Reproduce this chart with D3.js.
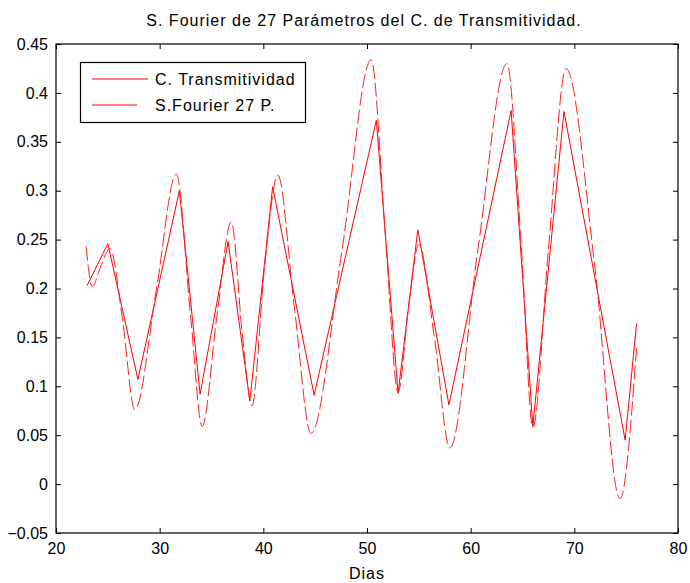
<!DOCTYPE html>
<meta charset="utf-8">
<style type="text/css">
body { margin: 0; background: #fff; }
svg { font-family: "Liberation Sans", Arial, Helvetica, sans-serif; }
.axis text { font-size: 16px; fill: #000; }
.axis path, .axis line { stroke: #000; }
</style>
<body>
<script src="https://d3js.org/d3.v7.min.js"></script>
<script>
// C. Transmitividad (solid)
let diasReal = [23.0, 25.0, 27.9, 31.9, 33.9, 36.6, 38.7, 40.9, 44.9, 50.9, 53.0, 54.9, 57.9, 63.9, 66.0, 69.0, 74.9, 76.0];
let transReal = [0.203, 0.246, 0.107, 0.300, 0.092, 0.248, 0.085, 0.304, 0.091, 0.372, 0.093, 0.260, 0.081, 0.382, 0.059, 0.381, 0.045, 0.164];

// S.Fourier 27 P. (dashed)
let diasFourier = [22.9, 23.5, 24.3, 25.2, 26.4, 27.6, 29.7, 31.6, 33.0, 34.1, 35.5, 36.9, 38.0, 38.9, 40.1, 41.4, 43.0, 44.6, 47.6, 50.4, 51.8, 53.0, 54.0, 55.0, 56.5, 58.0, 60.7, 63.5, 64.9, 66.0, 67.5, 69.2, 72.0, 74.4, 76.0];
let transFourier = [0.243, 0.202, 0.222, 0.241, 0.170, 0.076, 0.200, 0.317, 0.170, 0.059, 0.170, 0.268, 0.150, 0.080, 0.220, 0.316, 0.180, 0.052, 0.240, 0.434, 0.250, 0.094, 0.180, 0.245, 0.150, 0.037, 0.240, 0.430, 0.240, 0.058, 0.240, 0.425, 0.220, -0.015, 0.139];

let xTicks = [20, 30, 40, 50, 60, 70, 80];
let yTicks = [-0.05, 0, 0.05, 0.1, 0.15, 0.2, 0.25, 0.3, 0.35, 0.4, 0.45];
let legendNames = ["C. Transmitividad", "S.Fourier 27 P."];

let W = 690, H = 583;
let m = {left: 56, right: 12, top: 44, bottom: 50};

let svg = d3.select("body").append("svg")
    .attr("width", W).attr("height", H);

let x = d3.scaleLinear().domain([20, 80]).range([m.left, W - m.right]);
let y = d3.scaleLinear().domain([-0.05, 0.45]).range([H - m.bottom, m.top]);

// title
svg.append("text")
    .attr("x", 364)
    .attr("y", 26)
    .attr("text-anchor", "middle")
    .style("font-size", "16px")
    .style("letter-spacing", "1px")
    .text("S. Fourier de 27 Parámetros del C. de Transmitividad.");

// axes with inward ticks
let fmt = d => d3.format("")(+d.toFixed(2));
svg.append("g").attr("class", "axis")
    .attr("transform", `translate(0,${y(-0.05)})`)
    .call(d3.axisBottom(x).tickValues(xTicks).tickSizeInner(-5).tickSizeOuter(0).tickPadding(10))
    .call(g => g.select(".domain").remove());
svg.append("g").attr("class", "axis")
    .attr("transform", `translate(0,${y(0.45)})`)
    .call(d3.axisTop(x).tickValues(xTicks).tickSizeInner(-5).tickSizeOuter(0).tickFormat(""))
    .call(g => g.select(".domain").remove());
svg.append("g").attr("class", "axis")
    .attr("transform", `translate(${x(20)},0)`)
    .call(d3.axisLeft(y).tickValues(yTicks).tickSizeInner(-5).tickSizeOuter(0).tickPadding(8).tickFormat(fmt))
    .call(g => g.select(".domain").remove());
svg.append("g").attr("class", "axis")
    .attr("transform", `translate(${x(80)},0)`)
    .call(d3.axisRight(y).tickValues(yTicks).tickSizeInner(-5).tickSizeOuter(0).tickFormat(""))
    .call(g => g.select(".domain").remove());

// box
svg.append("rect")
    .attr("x", x(20)).attr("y", y(0.45))
    .attr("width", x(80) - x(20)).attr("height", y(-0.05) - y(0.45))
    .attr("fill", "none").attr("stroke", "#000").attr("stroke-width", 1.2);

// x label
svg.append("text")
    .attr("x", (x(20) + x(80)) / 2)
    .attr("y", 579)
    .attr("text-anchor", "middle")
    .style("font-size", "16px")
    .style("letter-spacing", "1px")
    .text("Dias");

// lines
let realLine = d3.line()
    .x((d, i) => x(diasReal[i]))
    .y(d => y(d));
let fourierLine = d3.line()
    .x((d, i) => x(diasFourier[i]))
    .y(d => y(d))
    .curve(d3.curveMonotoneX);

svg.append("path")
    .attr("d", realLine(transReal))
    .attr("fill", "none").attr("stroke", "#ff0000").attr("stroke-width", 1);
svg.append("path")
    .attr("d", fourierLine(transFourier))
    .attr("fill", "none").attr("stroke", "#ff2020").attr("stroke-width", 1)
    .attr("stroke-dasharray", "14,4");

// legend
let lg = svg.append("g");
lg.append("rect")
    .attr("x", 80.5).attr("y", 62.5).attr("width", 225).attr("height", 60)
    .attr("fill", "#fff").attr("stroke", "#000").attr("stroke-width", 1.2);
legendNames.forEach((name, i) => {
    let ly = 79 + i * 26;
    lg.append("line")
        .attr("x1", 92).attr("x2", i === 0 ? 148 : 137)
        .attr("y1", ly).attr("y2", ly)
        .attr("stroke", "#ff0000").attr("stroke-width", 1);
    lg.append("text")
        .attr("x", 155).attr("y", ly + 6)
        .style("font-size", "16px")
        .style("letter-spacing", "1px")
        .text(name);
});
</script>
</body>
